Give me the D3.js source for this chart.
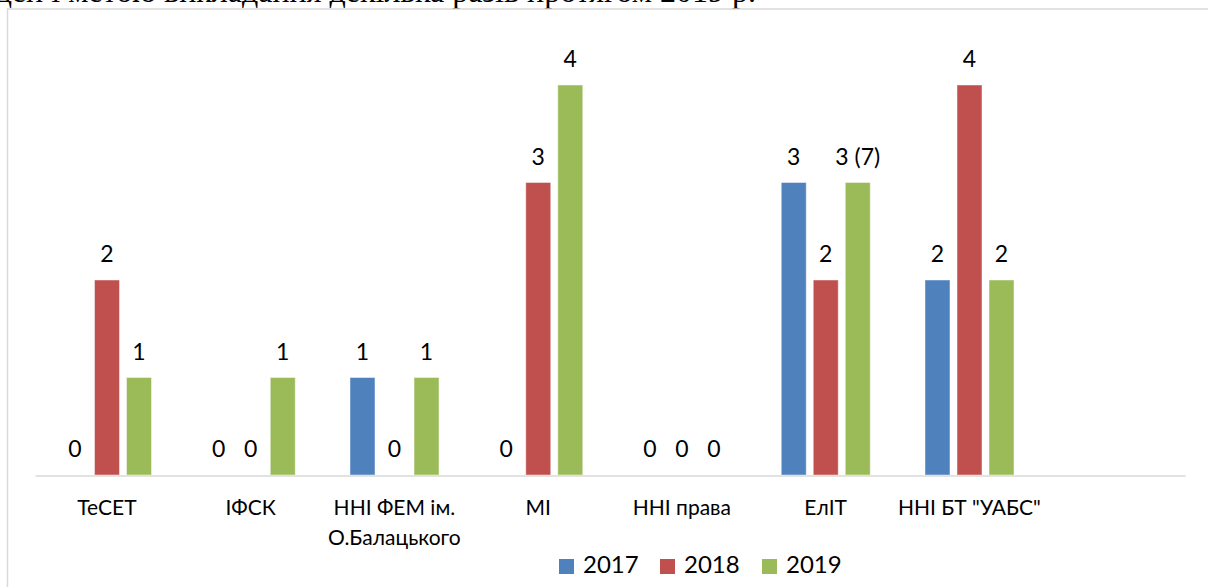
<!DOCTYPE html>
<html>
<head>
<meta charset="utf-8">
<script src="https://cdn.jsdelivr.net/npm/d3@7"></script>
<style>
  body { margin: 0; background: #fff; }
  svg { display: block; }
</style>
</head>
<body>
<script>
// розміри сторінки
const width = 1208;
const height = 587;

// дані
const categories = ['ТеСЕТ', 'ІФСК', 'ННІ ФЕМ ім.|О.Балацького', 'МІ', 'ННІ права', 'ЕлІТ', 'ННІ БТ "УАБС"', ''];
const years = ['2017', '2018', '2019'];
const values2017 = [0, 0, 1, 0, 0, 3, 2];
const values2018 = [2, 0, 0, 3, 0, 2, 4];
const values2019 = [1, 1, 1, 4, 0, 3, 2];
const labels2019 = ['1', '1', '1', '4', '0', '3 (7)', '2'];
const colors = ['#4F81BD', '#C0504D', '#9BBB59'];
const headerText = 'ден і метою викладання декілька разів протягом 2019 р.';

const series = [values2017, values2018, values2019];
const seriesLabels = [values2017.map(String), values2018.map(String), labels2019];

const plot = {left: 35, right: 1185, top: 85, bottom: 475};

const svg = d3.select('body')
  .append('svg')
  .attr('width', width)
  .attr('height', height);

// обрізаний рядок тексту над діаграмою
svg.append('text')
  .attr('x', 756)
  .attr('y', 2)
  .attr('text-anchor', 'end')
  .attr('font-family', '"Liberation Serif", "Times New Roman", serif')
  .attr('font-size', 32)
  .attr('fill', '#000')
  .text(headerText);

// рамка діаграми
svg.append('rect')
  .attr('x', 7.5)
  .attr('y', 9)
  .attr('width', 1260)
  .attr('height', 640)
  .attr('fill', '#fff')
  .attr('stroke', '#d9d9d9')
  .attr('stroke-width', 1.5);

// шкали
const x0 = d3.scaleBand()
  .domain(d3.range(categories.length))
  .range([plot.left, plot.right]);

const x1 = d3.scaleBand()
  .domain(d3.range(years.length))
  .range([27.5, 116.5])
  .paddingInner(0.22);

const y = d3.scaleLinear()
  .domain([0, 4])
  .range([plot.bottom, plot.top]);

// стовпці
series.forEach((vals, s) => {
  svg.selectAll('.bar' + s)
    .data(vals)
    .enter()
    .append('rect')
    .attr('class', 'bar' + s)
    .attr('x', (d, i) => x0(i) + x1(s))
    .attr('y', d => y(d))
    .attr('width', x1.bandwidth())
    .attr('height', d => y(0) - y(d))
    .attr('fill', colors[s])
    .attr('stroke', '#fff')
    .attr('stroke-opacity', 0.45)
    .attr('stroke-width', 1);

  svg.selectAll('.lbl' + s)
    .data(vals)
    .enter()
    .append('text')
    .attr('class', 'lbl' + s)
    .attr('x', (d, i) => x0(i) + x1(s) + x1.bandwidth() / 2)
    .attr('y', d => y(d) - 18)
    .attr('text-anchor', 'middle')
    .attr('font-family', 'Lato, sans-serif')
    .attr('font-size', 23)
    .attr('fill', '#000')
    .text((d, i) => seriesLabels[s][i]);
});

// вісь X
const xAxis = d3.axisBottom(x0)
  .tickSize(0)
  .tickSizeOuter(0)
  .tickFormat(i => categories[i]);

const gx = svg.append('g')
  .attr('transform', 'translate(0,' + (plot.bottom + 0.5) + ')')
  .call(xAxis);

gx.select('.domain')
  .attr('stroke', '#d9d9d9')
  .attr('stroke-width', 1.5);

gx.selectAll('.tick text').each(function(i) {
  const t = d3.select(this);
  const lines = categories[i].split('|');
  t.text(null)
    .attr('y', 0)
    .attr('dy', null)
    .attr('font-family', 'Lato, sans-serif')
    .attr('font-size', 21)
    .attr('fill', '#000');
  lines.forEach((line, k) => {
    t.append('tspan')
      .attr('x', 0)
      .attr('y', 39 + k * 30)
      .text(line);
  });
});

// легенда
const legendX = [559, 660, 762];
const legend = svg.append('g');
years.forEach((yr, s) => {
  legend.append('rect')
    .attr('x', legendX[s])
    .attr('y', 559)
    .attr('width', 15)
    .attr('height', 15)
    .attr('fill', colors[s]);
  legend.append('text')
    .attr('x', legendX[s] + 24)
    .attr('y', 573)
    .attr('font-family', 'Lato, sans-serif')
    .attr('font-size', 24)
    .attr('fill', '#000')
    .text(yr);
});
</script>
</body>
</html>
